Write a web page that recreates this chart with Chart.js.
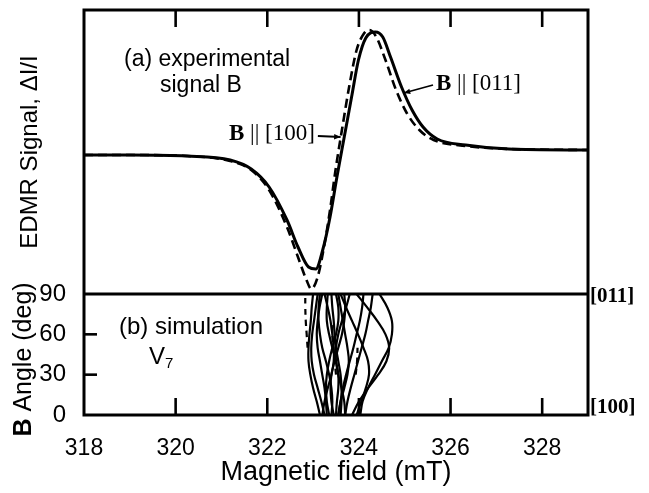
<!DOCTYPE html>
<html><head><meta charset="utf-8">
<script src="https://cdn.jsdelivr.net/npm/chart.js@4.4.1/dist/chart.umd.min.js"></script>
<style>html,body{margin:0;padding:0;background:#fff}</style>
</head><body>
<canvas id="c" width="649" height="493" style="width:649px;height:493px;display:block"></canvas>
<script>
// ---------- data ----------
const xTicks = [318, 320, 322, 324, 326, 328];
const angleTicks = [0, 30, 60, 90];

// (a) experimental signal, B || [011] (solid)
const fieldB011  = [318.0, 319.0, 320.25, 321.19, 321.65, 322.04, 322.43, 322.67, 322.90, 323.06, 323.21, 323.37, 323.52, 323.68, 323.84, 323.99, 324.15, 324.36, 324.52, 324.69, 324.93, 325.16, 325.40, 325.71, 326.33, 327.27, 329.0];
const signalB011 = [0, 0, -0.01, -0.05, -0.14, -0.32, -0.65, -0.92, -1.12, -1.14, -0.95, -0.62, -0.22, 0.18, 0.58, 0.95, 1.17, 1.23, 1.18, 0.98, 0.68, 0.45, 0.28, 0.16, 0.10, 0.06, 0.05];
// (a) experimental signal, B || [100] (dashed)
const fieldB100  = [318.0, 319.0, 320.25, 321.19, 321.65, 322.04, 322.43, 322.67, 322.86, 322.96, 323.10, 323.25, 323.37, 323.49, 323.64, 323.80, 323.95, 324.11, 324.23, 324.38, 324.58, 324.81, 325.05, 325.32, 325.63, 326.33, 327.3, 329.0];
const signalB100 = [0, 0, -0.01, -0.06, -0.15, -0.35, -0.72, -1.02, -1.255, -1.34, -1.22, -0.89, -0.55, -0.15, 0.28, 0.715, 1.05, 1.215, 1.25, 1.18, 0.95, 0.65, 0.415, 0.25, 0.15, 0.09, 0.06, 0.05];

// (b) simulation V7: resonance field (mT) of each line at these angles (deg)
const simAngles = [0, 10, 20, 30, 40, 50, 60, 70, 80, 90];
const simL1  = [323.15, 323.08, 323.00, 322.94, 322.90, 322.90, 322.92, 322.95, 322.97, 323.00];
const simL2  = [323.25, 323.18, 323.10, 323.02, 322.97, 322.96, 322.98, 323.02, 323.06, 323.10];
const simL3  = [323.30, 323.28, 323.25, 323.20, 323.15, 323.10, 323.08, 323.10, 323.14, 323.20];
const simL4  = [323.40, 323.42, 323.40, 323.35, 323.28, 323.20, 323.15, 323.12, 323.12, 323.15];
const simL5  = [323.20, 323.25, 323.32, 323.40, 323.45, 323.45, 323.42, 323.38, 323.32, 323.25];
const simL6  = [323.35, 323.30, 323.28, 323.30, 323.35, 323.42, 323.50, 323.55, 323.55, 323.50];
const simL7  = [323.50, 323.52, 323.55, 323.55, 323.50, 323.42, 323.35, 323.30, 323.30, 323.32];
const simL8  = [323.45, 323.40, 323.38, 323.40, 323.47, 323.55, 323.63, 323.68, 323.70, 323.68];
const simL9  = [323.60, 323.62, 323.62, 323.60, 323.55, 323.50, 323.47, 323.45, 323.42, 323.40];
const simL10 = [323.55, 323.60, 323.68, 323.75, 323.78, 323.75, 323.70, 323.65, 323.60, 323.55];
const simL11 = [323.70, 323.68, 323.62, 323.55, 323.50, 323.50, 323.55, 323.63, 323.72, 323.80];
const simR1  = [324.03, 324.08, 324.20, 324.35, 324.50, 324.65, 324.72, 324.72, 324.62, 324.45];
const simR2  = [323.85, 324.00, 324.20, 324.42, 324.60, 324.66, 324.58, 324.40, 324.18, 323.95];
const simR3  = [323.70, 323.75, 323.82, 323.90, 323.98, 324.06, 324.14, 324.20, 324.26, 324.30];
const simR4  = [323.95, 324.05, 324.15, 324.22, 324.20, 324.10, 323.98, 323.85, 323.72, 323.60];
const simR5  = [323.55, 323.60, 323.65, 323.72, 323.80, 323.88, 323.95, 324.02, 324.07, 324.10];
const simD1  = [null, null, null, null, null, 322.88, 322.86, 322.84, 322.83, 322.83];
const simD2  = [null, null, null, 323.50, 323.47, 323.44, 323.42, 323.40, null, null];
const simD3  = [null, null, null, 323.93, 323.96, 323.97, null, null, null, null];

// ---------- build ----------
const SANS = '"Liberation Sans", Arial, Helvetica, sans-serif';
const SERIF = '"Liberation Serif", "Times New Roman", serif';
const pts = (xs, ys) => xs.map((v, i) => ({x: v, y: ys[i]}));
const simPts = f => f.map((v, i) => v === null ? null : {x: v, y: simAngles[i]}).filter(p => p);

const solidSims = [simL1, simL2, simL3, simL4, simL5, simL6, simL7, simL8, simL9, simL10, simL11, simR1, simR2, simR3, simR4, simR5];
const dashedSims = [simD1, simD2, simD3];

const datasets = [
  {data: pts(fieldB011, signalB011), yAxisID: 'ys', borderColor: '#000', borderWidth: 3, cubicInterpolationMode: 'monotone'},
  {data: pts(fieldB100, signalB100), yAxisID: 'ys', borderColor: '#000', borderWidth: 2.6, borderDash: [9, 5], cubicInterpolationMode: 'monotone'}
];
solidSims.forEach(f => datasets.push({data: simPts(f), yAxisID: 'ya', borderColor: '#000', borderWidth: 2.2, tension: 0.4}));
dashedSims.forEach(f => datasets.push({data: simPts(f), yAxisID: 'ya', borderColor: '#000', borderWidth: 2.2, borderDash: [6, 5], tension: 0.4}));
datasets.forEach(d => { d.showLine = true; d.pointRadius = 0; d.fill = false; });

function seg(ctx, x1, y1, x2, y2) { ctx.beginPath(); ctx.moveTo(x1, y1); ctx.lineTo(x2, y2); ctx.stroke(); }

const framePlugin = {
  id: 'frame',
  afterDatasetsDraw(chart) {
    const {ctx, chartArea: a, scales} = chart;
    const x = scales.x, ya = scales.ya, ys = scales.ys;
    ctx.save();
    ctx.strokeStyle = '#000';
    ctx.lineWidth = 3;
    ctx.strokeRect(a.left, a.top, a.right - a.left, a.bottom - a.top);
    const mid = ya.getPixelForValue(90);
    seg(ctx, a.left, mid, a.right, mid);
    ctx.lineWidth = 2.6;
    xTicks.forEach(v => {
      if (v === xTicks[0]) return;
      const px = x.getPixelForValue(v);
      seg(ctx, px, a.top, px, a.top + 17);
      seg(ctx, px, a.bottom, px, a.bottom - 17);
    });
    angleTicks.forEach(v => {
      if (v === 0 || v === 90) return;
      const py = ya.getPixelForValue(v);
      seg(ctx, a.left, py, a.left + 13, py);
    });

    // texts
    ctx.fillStyle = '#000';
    ctx.textBaseline = 'middle';
    ctx.textAlign = 'left';
    ctx.font = '23px ' + SANS;
    ctx.fillText('(a) experimental', 124, 60);
    ctx.fillText('signal B', 160, 86);
    ctx.font = '24px ' + SANS;
    ctx.fillText('(b) simulation', 119, 327);
    ctx.fillText('V', 149, 357);
    ctx.font = '15px ' + SANS;
    ctx.fillText('7', 165, 364);

    // B || labels (serif)
    function bLabel(txt, lx, cy) {
      ctx.font = 'bold 23px ' + SERIF;
      ctx.fillText('B', lx, cy);
      const w = ctx.measureText('B').width;
      ctx.font = '23px ' + SERIF;
      ctx.fillText(txt, lx + w, cy);
      return lx + w + ctx.measureText(txt).width;
    }
    const end100 = bLabel(' || [100]', 229, 134);
    bLabel(' || [011]', 436, 84);
    // arrows
    ctx.lineWidth = 1.8;
    function arrow(x1, y1, x2, y2) {
      seg(ctx, x1, y1, x2, y2);
      const ang = Math.atan2(y2 - y1, x2 - x1);
      ctx.beginPath();
      ctx.moveTo(x2, y2);
      ctx.lineTo(x2 - 7 * Math.cos(ang - 0.4), y2 - 7 * Math.sin(ang - 0.4));
      ctx.lineTo(x2 - 7 * Math.cos(ang + 0.4), y2 - 7 * Math.sin(ang + 0.4));
      ctx.closePath(); ctx.fill();
    }
    arrow(end100 + 3, 136, x.getPixelForValue(323.60), ys.getPixelForValue(0.18));
    arrow(433, 85, x.getPixelForValue(324.98), ys.getPixelForValue(0.62));

    // right side direction labels
    ctx.font = 'bold 21px ' + SERIF;
    ctx.fillText('[011]', a.right + 2, mid + 3);
    ctx.fillText('[100]', a.right + 2, ya.getPixelForValue(0) - 7);

    // axis titles
    ctx.textAlign = 'center';
    ctx.font = '27px ' + SANS;
    ctx.fillText('Magnetic field (mT)', (a.left + a.right) / 2, 473);
    ctx.font = '24px ' + SANS;
    ctx.save();
    ctx.translate(30, (ys.top + ys.bottom) / 2);
    ctx.rotate(-Math.PI / 2);
    ctx.fillText('EDMR Signal, \u0394I/I', 0, 0);
    ctx.restore();
    ctx.save();
    ctx.translate(24, (ya.top + ya.bottom) / 2 + 5);
    ctx.rotate(-Math.PI / 2);
    ctx.font = 'bold 25px ' + SANS;
    const wB = ctx.measureText('B').width;
    ctx.font = '25px ' + SANS;
    const wR = ctx.measureText(' Angle (deg)').width;
    ctx.textAlign = 'left';
    const sx = -(wB + wR) / 2;
    ctx.font = 'bold 25px ' + SANS;
    ctx.fillText('B', sx, 0);
    ctx.font = '25px ' + SANS;
    ctx.fillText(' Angle (deg)', sx + wB, 0);
    ctx.restore();
    ctx.restore();
  }
};

const noPadY = s => { s.width = 84; s.paddingTop = 0; s.paddingBottom = 0; };

new Chart(document.getElementById('c'), {
  type: 'scatter',
  data: {datasets},
  options: {
    responsive: false, animation: false, devicePixelRatio: 1,
    layout: {padding: {left: 0, right: 61, top: 10, bottom: 0}},
    plugins: {legend: {display: false}, tooltip: {enabled: false}},
    scales: {
      x: {
        type: 'linear', position: 'bottom', min: 318, max: 329,
        afterBuildTicks: s => { s.ticks = xTicks.map(v => ({value: v})); },
        afterFit: s => { s.height = 78; s.paddingLeft = 0; s.paddingRight = 0; },
        grid: {display: false}, border: {display: false},
        ticks: {color: '#000', font: {family: SANS, size: 23}, padding: 12, maxRotation: 0, autoSkip: false}
      },
      ya: {
        type: 'linear', position: 'left', stack: 'panels', stackWeight: 121, min: 0, max: 90,
        afterBuildTicks: s => { s.ticks = angleTicks.map(v => ({value: v})); },
        afterFit: noPadY,
        grid: {display: false}, border: {display: false},
        ticks: {color: '#000', font: {family: SANS, size: 24}, padding: 10, autoSkip: false}
      },
      ys: {
        type: 'linear', position: 'left', stack: 'panels', stackWeight: 284, min: -1.39, max: 1.45,
        afterFit: noPadY,
        grid: {display: false}, border: {display: false},
        ticks: {display: false}
      }
    }
  },
  plugins: [framePlugin]
});
</script>
</body></html>
